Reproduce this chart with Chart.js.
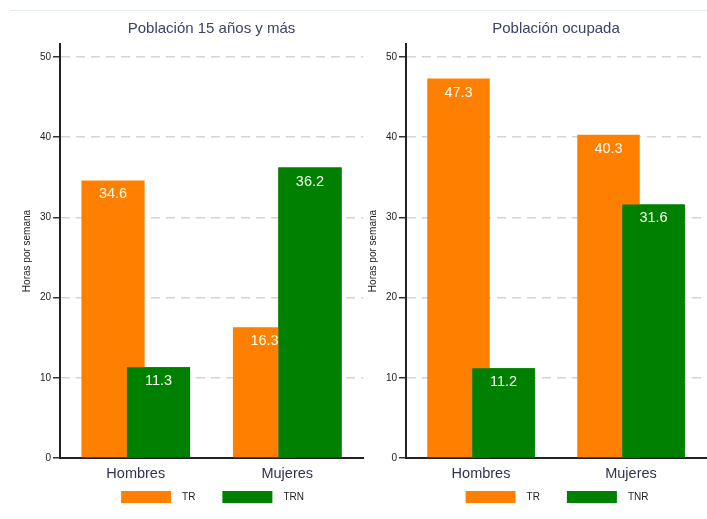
<!DOCTYPE html>
<html>
<head>
<meta charset="utf-8">
<script src="https://cdn.jsdelivr.net/npm/chart.js@4.4.1/dist/chart.umd.min.js"></script>
<style>
  body { margin: 0; background: #fff; }
  #wrap { position: relative; width: 707px; height: 519px; overflow: hidden; }
  #topline { position: absolute; left: 10px; top: 10px; width: 697px; height: 1px; background: #e4eded; }
  canvas { position: absolute; top: 0; }
</style>
</head>
<body>
<div id="wrap">
  <div id="topline"></div>
  <canvas id="chartPob" width="366" height="519" style="left:0px"></canvas>
  <canvas id="chartOcup" width="361" height="519" style="left:346px"></canvas>
</div>
<script>
// datos
const categorias = ['Hombres', 'Mujeres'];
const yTicks = [0, 10, 20, 30, 40, 50];
const trPob = [34.6, 16.3];
const trnPob = [11.3, 36.2];
const trOcup = [47.3, 40.3];
const tnrOcup = [11.2, 31.6];

const NARANJA = '#ff8000';
const VERDE = '#008000';
const FONT = "'Liberation Sans', Arial, sans-serif";

// la barra verde va encima de la naranja, luego las etiquetas
const barLabels = {
  id: 'barLabels',
  afterDatasetsDraw(chart) {
    const ctx = chart.ctx;
    chart.getDatasetMeta(1).controller.draw();
    ctx.save();
    ctx.font = '14.5px ' + FONT;
    ctx.fillStyle = '#fbfbf4';
    ctx.textAlign = 'center';
    ctx.textBaseline = 'middle';
    chart.data.datasets.forEach((ds, i) => {
      chart.getDatasetMeta(i).data.forEach((bar, j) => {
        ctx.fillText(ds.data[j].toFixed(1), bar.x, bar.y + 14);
      });
    });
    ctx.restore();
  }
};

// leyenda abajo, centrada bajo el area del grafico
const leyenda = {
  id: 'leyenda',
  afterDraw(chart) {
    const ctx = chart.ctx;
    const area = chart.chartArea;
    const ds = chart.data.datasets;
    ctx.save();
    ctx.font = '10px ' + FONT;
    ctx.textBaseline = 'middle';
    const w0 = ctx.measureText(ds[0].label).width;
    const w1 = ctx.measureText(ds[1].label).width;
    const total = 50 + 11 + w0 + 27 + 50 + 11 + w1;
    let x = (area.left + area.right) / 2 - total / 2 + 1;
    const y = 491;
    ds.forEach((d, i) => {
      ctx.fillStyle = d.backgroundColor;
      ctx.fillRect(x, y, 50, 12);
      ctx.fillStyle = '#222';
      ctx.fillText(d.label, x + 61, y + 6.5);
      x += 61 + (i === 0 ? w0 : w1) + 27;
    });
    ctx.restore();
  }
};

function makeChart(id, titulo, label2, serie1, serie2, padRight) {
  return new Chart(document.getElementById(id), {
    type: 'bar',
    data: {
      labels: categorias,
      datasets: [
        { label: 'TR', data: serie1, backgroundColor: NARANJA },
        { label: label2, data: serie2, backgroundColor: VERDE }
      ]
    },
    options: {
      responsive: false,
      animation: false,
      devicePixelRatio: 1,
      categoryPercentage: 0.6,
      barPercentage: 1.39,
      layout: { padding: { left: 0, right: padRight, top: 0, bottom: 34 } },
      plugins: {
        title: {
          display: true,
          text: titulo,
          fullSize: false,
          color: '#3d4268',
          font: { family: FONT, size: 15, weight: 'normal' },
          padding: { top: 20, bottom: 6 }
        },
        legend: { display: false },
        tooltip: { enabled: false }
      },
      scales: {
        x: {
          grid: { display: false, drawTicks: false },
          border: { display: true, color: '#222', width: 2 },
          ticks: { color: '#30334f', padding: 7, font: { family: FONT, size: 14.5 } },
          afterFit(scale) { scale.height = 27; }
        },
        y: {
          min: 0,
          max: 51.6,
          afterBuildTicks(scale) { scale.ticks = yTicks.map(v => ({ value: v })); },
          afterFit(scale) { scale.width = 60; },
          grid: {
            color: '#d4d4d4',
            lineWidth: 1.5,
            tickLength: 7,
            tickColor: '#333',
            tickWidth: 1.5,
            tickBorderDash: []
          },
          border: { display: true, color: '#222', width: 2, dash: [9, 6] },
          ticks: { color: '#222', padding: 2, font: { family: FONT, size: 10 } },
          title: {
            display: true,
            text: 'Horas por semana',
            color: '#222',
            font: { family: FONT, size: 10 },
            padding: { top: 21, bottom: 0 }
          }
        }
      }
    },
    plugins: [barLabels, leyenda]
  });
}

makeChart('chartPob', 'Población 15 años y más', 'TRN', trPob, trnPob, 3);
makeChart('chartOcup', 'Población ocupada', 'TNR', trOcup, tnrOcup, 1);
</script>
</body>
</html>
